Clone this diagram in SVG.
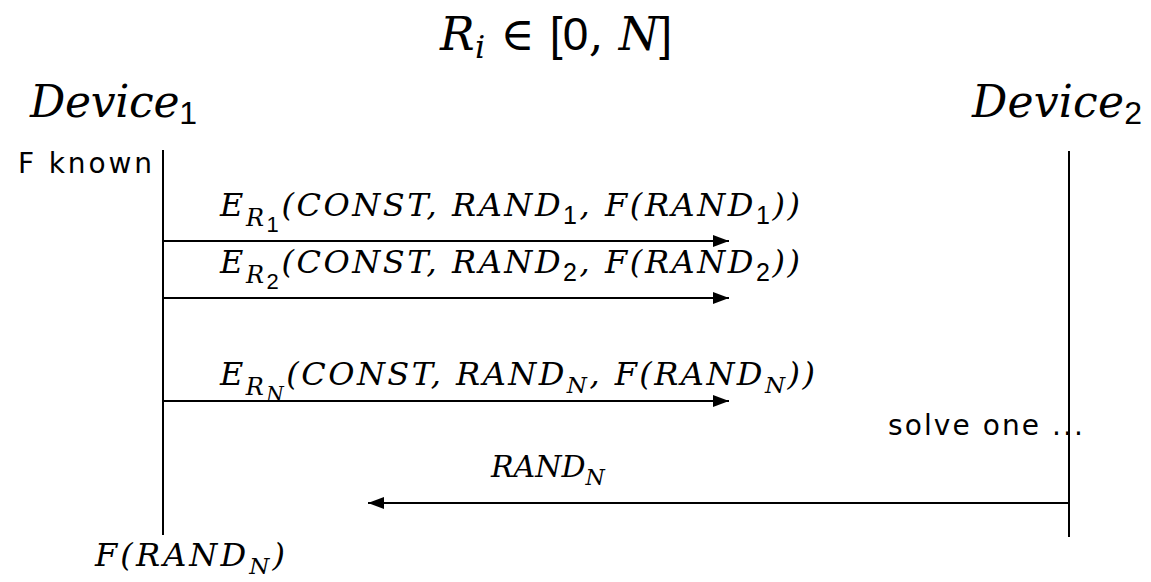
<svg xmlns="http://www.w3.org/2000/svg" width="1151" height="582" viewBox="0 0 1151 582">
<style>
.m{font-family:"DejaVu Serif","Liberation Serif",serif;font-style:italic;fill:#000}
.s{font-family:"Liberation Sans","DejaVu Sans",sans-serif;font-style:normal}
.r{font-family:"DejaVu Serif","Liberation Serif",serif;font-style:normal}
.t{font-family:"DejaVu Sans","Liberation Sans",sans-serif;fill:#000}
.ln{stroke:#000;stroke-width:2;fill:none}
</style>
<defs>
<marker id="ah" markerWidth="16" markerHeight="12" refX="16" refY="6" orient="auto" markerUnits="userSpaceOnUse"><path d="M0,0 L16,6 L0,12 Z" fill="#000"/></marker>
</defs>
<rect width="1151" height="582" fill="#fff"/>
<g id="title"><text class="m" x="440" y="50" font-size="46" textLength="232">R<tspan font-size="32" dy="8">i</tspan><tspan class="r" dy="-8"> ∈ </tspan><tspan class="s">[0</tspan><tspan class="r">, </tspan>N<tspan class="s">]</tspan></text></g>
<g id="device1"><text class="m" x="30" y="117" font-size="44" textLength="167">Device<tspan class="s" font-size="32" dy="7">1</tspan></text>
<line class="ln" x1="163" y1="150" x2="163" y2="535"/>
<text class="t" x="18" y="173" font-size="28" textLength="134">F known</text>
<text class="m" x="95" y="566" font-size="32" textLength="190">F(RAND<tspan font-size="23" dy="8">N</tspan><tspan dy="-8">)</tspan></text></g>
<g id="device2"><text class="m" x="972" y="117" font-size="44" textLength="170">Device<tspan class="s" font-size="32" dy="7">2</tspan></text>
<line class="ln" x1="1069" y1="151" x2="1069" y2="537"/>
<text class="t" x="888" y="435" font-size="28" textLength="195">solve one ...</text></g>
<g id="connectors">
<line class="ln" x1="163" y1="241" x2="729" y2="241" marker-end="url(#ah)"/>
<line class="ln" x1="163" y1="298" x2="729" y2="298" marker-end="url(#ah)"/>
<line class="ln" x1="163" y1="401" x2="729" y2="401" marker-end="url(#ah)"/>
<line class="ln" x1="1069" y1="503" x2="368" y2="503" marker-end="url(#ah)"/>
<text class="m" x="220" y="216" font-size="32" textLength="580">E<tspan font-size="24" dy="10">R</tspan><tspan class="s" font-size="22" dy="6">1</tspan><tspan dy="-16">(CONST, RAND</tspan><tspan class="s" font-size="25" dy="8">1</tspan><tspan dy="-8">, F(RAND</tspan><tspan class="s" font-size="25" dy="8">1</tspan><tspan dy="-8">))</tspan></text>
<text class="m" x="220" y="273" font-size="32" textLength="580">E<tspan font-size="24" dy="10">R</tspan><tspan class="s" font-size="22" dy="6">2</tspan><tspan dy="-16">(CONST, RAND</tspan><tspan class="s" font-size="25" dy="8">2</tspan><tspan dy="-8">, F(RAND</tspan><tspan class="s" font-size="25" dy="8">2</tspan><tspan dy="-8">))</tspan></text>
<text class="m" x="220" y="385" font-size="32" textLength="595">E<tspan font-size="24" dy="10">R</tspan><tspan font-size="20" dy="6">N</tspan><tspan dy="-16">(CONST, RAND</tspan><tspan font-size="23" dy="8">N</tspan><tspan dy="-8">, F(RAND</tspan><tspan font-size="23" dy="8">N</tspan><tspan dy="-8">))</tspan></text>
<text class="m" x="491" y="477" font-size="30">RAND<tspan font-size="22" dy="8">N</tspan></text>
</g>
</svg>
